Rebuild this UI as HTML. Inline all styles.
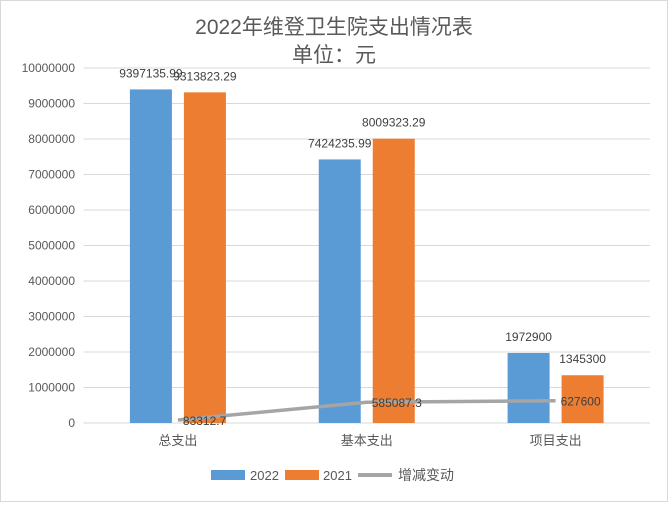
<!DOCTYPE html>
<html><head><meta charset="utf-8"><style>
body{margin:0;background:#fff}
svg text{font-family:"Liberation Sans","Noto Sans CJK SC",sans-serif}
</style></head><body>
<svg width="668" height="502" id="c">
<rect x="0.5" y="0.5" width="667" height="501" fill="#fff" stroke="#d9d9d9"/>
<text x="334" y="34" text-anchor="middle" font-size="21" fill="#595959">2022年维登卫生院支出情况表</text>
<text x="334" y="62" text-anchor="middle" font-size="21" fill="#595959">单位：元</text>
<g id="grid"></g><g id="bars"></g><g id="line"></g><g id="labels"></g>
<g>
<rect x="211" y="470" width="34" height="10" fill="#5b9bd5"/>
<text x="250" y="480" font-size="13" fill="#595959">2022</text>
<rect x="285" y="470" width="34" height="10" fill="#ed7d31"/>
<text x="323" y="480" font-size="13" fill="#595959">2021</text>
<line x1="358" y1="475" x2="392" y2="475" stroke="#a5a5a5" stroke-width="4"/>
<text x="398" y="480" font-size="14" fill="#595959">增减变动</text>
</g>
</svg>
<script>
const categories=["总支出","基本支出","项目支出"];
const values2022=[9397135.99,7424235.99,1972900];
const values2021=[9313823.29,8009323.29,1345300];
const change=[83312.7,585087.3,627600];
const labels2022=["9397135.99","7424235.99","1972900"];
const labels2021=["9313823.29","8009323.29","1345300"];
const changeLabels=["83312.7","585087.3","627600"];
const yTicks=[0,1000000,2000000,3000000,4000000,5000000,6000000,7000000,8000000,9000000,10000000];
const NS="http://www.w3.org/2000/svg";
const X0=83.5,X1=650,Y0=423,Y1=68,YMAX=10000000;
const band=(X1-X0)/categories.length;
const y=v=>Y0-(v/YMAX)*(Y0-Y1);
const cx=i=>X0+band*(i+0.5);
function mk(tag,attrs,parent){const e=document.createElementNS(NS,tag);for(const k in attrs)e.setAttribute(k,attrs[k]);document.getElementById(parent).appendChild(e);return e;}
yTicks.forEach((t,i)=>{
 const l=mk('line',{x1:X0,x2:X1,y1:y(t),y2:y(t),stroke:'#d9d9d9'},'grid');
 
 
 const tx=mk('text',{x:75,y:y(t)+4,'text-anchor':'end','font-size':'12',fill:'#595959'},'grid');
 tx.textContent=String(t);
 
 
});
const bw=42;
categories.forEach((c,i)=>{
 const b1=mk('rect',{x:cx(i)-48,y:y(values2022[i]),width:bw,height:Y0-y(values2022[i]),fill:'#5b9bd5'},'bars');
 
 
 const b2=mk('rect',{x:cx(i)+6,y:y(values2021[i]),width:bw,height:Y0-y(values2021[i]),fill:'#ed7d31'},'bars');
 
 
 const t1=mk('text',{x:cx(i)-27,y:y(values2022[i])-12,'text-anchor':'middle','font-size':'12',fill:'#404040'},'labels');
 t1.textContent=labels2022[i];
 
 
 const t2=mk('text',{x:cx(i)+27,y:y(values2021[i])-12,'text-anchor':'middle','font-size':'12',fill:'#404040'},'labels');
 t2.textContent=labels2021[i];
 
 
 const t3=mk('text',{x:cx(i)+5,y:y(change[i])+5,'font-size':'12',fill:'#404040'},'labels');
 t3.textContent=changeLabels[i];
 
 
 const ct=mk('text',{x:cx(i),y:445,'text-anchor':'middle','font-size':'13',fill:'#595959'},'labels');
 ct.textContent=c;
 
 
});
const pl=mk('polyline',{points:change.map((v,i)=>cx(i)+','+y(v)).join(' '),fill:'none',stroke:'#a5a5a5','stroke-width':'3.5','stroke-linejoin':'round'},'line');


</script>
</body></html>
